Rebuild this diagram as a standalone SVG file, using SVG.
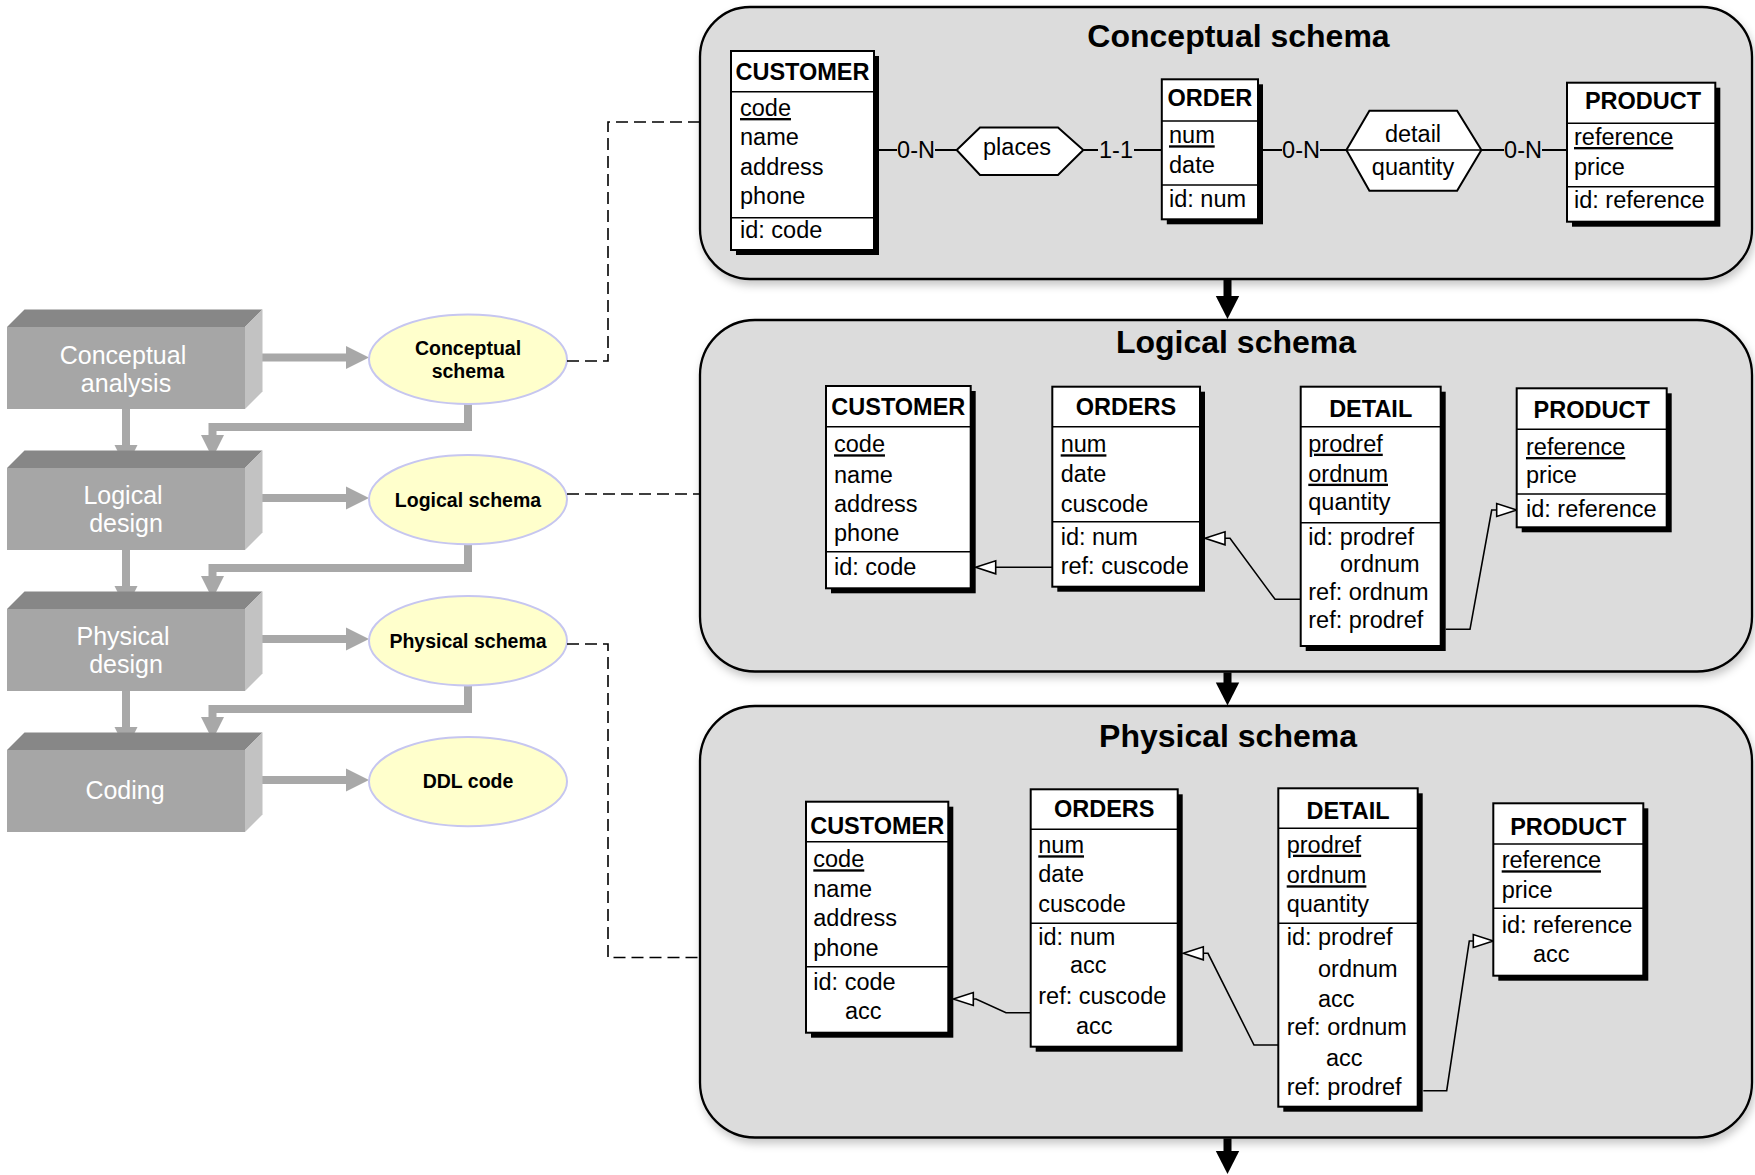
<svg xmlns="http://www.w3.org/2000/svg" xmlns:xlink="http://www.w3.org/1999/xlink" width="1755" height="1175" viewBox="0 0 1755 1175">
  <defs>
    <style>
      .front { fill: #a6a6a6; }
      .top { fill: #878787; }
      .side { fill: #c2c2c2; }
      .btxt { font-family: "Liberation Sans", Arial, sans-serif; font-size: 25px; fill: #ffffff; text-anchor: middle; }
      .ell { fill: #ffffcc; stroke: #c6c6f0; stroke-width: 2; }
      .etxt { font-family: "Liberation Sans", Arial, sans-serif; font-size: 19.5px; font-weight: bold; fill: #000; text-anchor: middle; }
      .gshaft { fill: none; stroke: #a8a8a8; stroke-width: 8; stroke-linejoin: miter; }
      .ghead { fill: #a8a8a8; }
      .dash { fill: none; stroke: #000; stroke-width: 1.6; stroke-dasharray: 12 6; }
      .panel { fill: #dcdcdc; stroke: #000; stroke-width: 2.3; filter: url(#soft); }
      .title { font-family: "Liberation Sans", Arial, sans-serif; font-size: 32px; font-weight: bold; fill: #000; text-anchor: middle; }
      .bshaft { fill: none; stroke: #000; stroke-width: 8; }
      .bhead { fill: #000; }
      .shd { fill: #000; }
      .tbl { fill: #fff; stroke: #000; stroke-width: 2; }
      .sep { stroke: #000; stroke-width: 1.6; }
      .hd { font-family: "Liberation Sans", Arial, sans-serif; font-size: 23.5px; font-weight: bold; fill: #000; text-anchor: middle; }
      .at { font-family: "Liberation Sans", Arial, sans-serif; font-size: 23.5px; fill: #000; }
      .pk { text-decoration: underline; }
      .rel { fill: #fff; stroke: #000; stroke-width: 2; }
      .lnk { fill: none; stroke: #000; stroke-width: 2; }
      .card { font-family: "Liberation Sans", Arial, sans-serif; font-size: 23.5px; fill: #000; text-anchor: middle; }
      .fk { fill: none; stroke: #000; stroke-width: 1.6; }
      .fkhead { fill: #fff; stroke: #000; stroke-width: 1.6; }
    </style>
    <filter id="soft" x="-5%" y="-5%" width="110%" height="115%">
      <feDropShadow dx="2" dy="5" stdDeviation="4" flood-color="#000" flood-opacity="0.22"/>
    </filter>
    <!-- gray arrowhead, tip at origin, pointing down -->
    <path id="gHead" d="M0,0 L-11.5,-23 L11.5,-23 Z"/>
    <!-- black arrowhead, tip at origin, pointing down -->
    <path id="bHead" d="M0,0 L-11.7,-23 L11.7,-23 Z"/>
    <!-- hollow reference arrowhead, tip at origin, pointing left -->
    <path id="fkTri" d="M0,0 L20,-6.5 L20,6.5 Z"/>
  </defs>

  <!-- ===== design process (left) ===== -->
  <g id="process-arrows">
    <!-- step to step -->
    <path class="gshaft" d="M126,409 V446"/>
    <use href="#gHead" class="ghead" transform="translate(126,468)"/>
    <path class="gshaft" d="M126,550 V587"/>
    <use href="#gHead" class="ghead" transform="translate(126,609)"/>
    <path class="gshaft" d="M126,691 V728"/>
    <use href="#gHead" class="ghead" transform="translate(126,750)"/>
    <!-- step to product -->
    <path class="gshaft" d="M258,357.5 H347"/>
    <use href="#gHead" class="ghead" transform="translate(369,357.5) rotate(-90)"/>
    <path class="gshaft" d="M258,498 H347"/>
    <use href="#gHead" class="ghead" transform="translate(369,498) rotate(-90)"/>
    <path class="gshaft" d="M258,639 H347"/>
    <use href="#gHead" class="ghead" transform="translate(369,639) rotate(-90)"/>
    <path class="gshaft" d="M258,780 H347"/>
    <use href="#gHead" class="ghead" transform="translate(369,780) rotate(-90)"/>
    <!-- product feeds next step -->
    <path class="gshaft" d="M468,403 V427 H212.5 V436"/>
    <use href="#gHead" class="ghead" transform="translate(212.5,458)"/>
    <path class="gshaft" d="M468,544 V568 H212.5 V577"/>
    <use href="#gHead" class="ghead" transform="translate(212.5,599)"/>
    <path class="gshaft" d="M468,685 V709 H212.5 V718"/>
    <use href="#gHead" class="ghead" transform="translate(212.5,740)"/>
  </g>

  <g id="step-conceptual-analysis">
    <polygon class="top" points="7,327 24.5,309.5 262.5,309.5 245,327"/>
    <polygon class="side" points="245,327 262.5,309.5 262.5,391.5 245,409"/>
    <rect class="front" x="7" y="327" width="238" height="82"/>
    <text class="btxt" x="123" y="363.5">Conceptual</text>
    <text class="btxt" x="126" y="391.5">analysis</text>
  </g>
  <g id="step-logical-design">
    <polygon class="top" points="7,468 24.5,450.5 262.5,450.5 245,468"/>
    <polygon class="side" points="245,468 262.5,450.5 262.5,532.5 245,550"/>
    <rect class="front" x="7" y="468" width="238" height="82"/>
    <text class="btxt" x="123" y="504">Logical</text>
    <text class="btxt" x="126" y="532">design</text>
  </g>
  <g id="step-physical-design">
    <polygon class="top" points="7,609 24.5,591.5 262.5,591.5 245,609"/>
    <polygon class="side" points="245,609 262.5,591.5 262.5,673.5 245,691"/>
    <rect class="front" x="7" y="609" width="238" height="82"/>
    <text class="btxt" x="123" y="644.5">Physical</text>
    <text class="btxt" x="126" y="673">design</text>
  </g>
  <g id="step-coding">
    <polygon class="top" points="7,750 24.5,732.5 262.5,732.5 245,750"/>
    <polygon class="side" points="245,750 262.5,732.5 262.5,814.5 245,832"/>
    <rect class="front" x="7" y="750" width="238" height="82"/>
    <text class="btxt" x="125" y="798.5">Coding</text>
  </g>

  <g id="product-conceptual-schema">
    <ellipse class="ell" cx="468" cy="359.3" rx="99" ry="44.7"/>
    <text class="etxt" x="468" y="355">Conceptual</text>
    <text class="etxt" x="468" y="377.7">schema</text>
  </g>
  <g id="product-logical-schema">
    <ellipse class="ell" cx="468" cy="499.6" rx="99" ry="44.7"/>
    <text class="etxt" x="468" y="507">Logical schema</text>
  </g>
  <g id="product-physical-schema">
    <ellipse class="ell" cx="468" cy="640.7" rx="99" ry="44.7"/>
    <text class="etxt" x="468" y="648">Physical schema</text>
  </g>
  <g id="product-ddl-code">
    <ellipse class="ell" cx="468" cy="781.6" rx="99" ry="44.7"/>
    <text class="etxt" x="468" y="788">DDL code</text>
  </g>

  <!-- dashed links from products to schema panels -->
  <g id="schema-links">
    <path class="dash" d="M567,361 H608 V122 H700"/>
    <path class="dash" d="M567,494 H700"/>
    <path class="dash" d="M567,644 H608 V957.5 H700"/>
  </g>

  <!-- ===== schema panels (right) ===== -->
  <g id="panel-conceptual">
    <rect class="panel" x="700" y="7" width="1052" height="272" rx="50" ry="50"/>
    <text class="title" x="1238.5" y="46.7">Conceptual schema</text>
  </g>
  <g id="panel-logical">
    <rect class="panel" x="700" y="320" width="1052" height="351.5" rx="55" ry="55"/>
    <text class="title" x="1236" y="353.3">Logical schema</text>
  </g>
  <g id="panel-physical">
    <rect class="panel" x="700" y="706" width="1052" height="431.5" rx="55" ry="55"/>
    <text class="title" x="1228" y="746.7">Physical schema</text>
  </g>

  <g id="panel-arrows">
    <path class="bshaft" d="M1227.5,280 V297"/>
    <use href="#bHead" class="bhead" transform="translate(1227.5,319)"/>
    <path class="bshaft" d="M1227.5,672.5 V684"/>
    <use href="#bHead" class="bhead" transform="translate(1227.5,705.5)"/>
    <path class="bshaft" d="M1227.5,1138.5 V1152"/>
    <use href="#bHead" class="bhead" transform="translate(1227.5,1174)"/>
  </g>

  <!-- ===== conceptual schema ===== -->
  <g id="c-links">
    <path class="lnk" d="M874,150 H897"/>
    <text class="card" x="916" y="158.3">0-N</text>
    <path class="lnk" d="M935,150 H956.7"/>
    <path class="lnk" d="M1083.3,150 H1098"/>
    <text class="card" x="1116" y="158.3">1-1</text>
    <path class="lnk" d="M1134,150 H1161.8"/>
    <path class="lnk" d="M1258,150 H1282"/>
    <text class="card" x="1301" y="158.3">0-N</text>
    <path class="lnk" d="M1320,150 H1346.4"/>
    <path class="lnk" d="M1481.4,150 H1504"/>
    <text class="card" x="1523" y="158.3">0-N</text>
    <path class="lnk" d="M1542,150 H1567"/>
  </g>

  <g id="c-customer">
    <rect class="shd" x="736" y="56" width="143" height="199"/>
    <rect class="tbl" x="731" y="51" width="143" height="199"/>
    <line class="sep" x1="731" y1="91.7" x2="874" y2="91.7"/>
    <line class="sep" x1="731" y1="217.7" x2="874" y2="217.7"/>
    <text class="hd" x="802.5" y="80">CUSTOMER</text>
    <text class="at pk" x="740" y="116">code</text>
    <text class="at" x="740" y="145.3">name</text>
    <text class="at" x="740" y="175">address</text>
    <text class="at" x="740" y="204.3">phone</text>
    <text class="at" x="740" y="238.3">id: code</text>
  </g>

  <g id="c-places">
    <polygon class="rel" points="956.7,150 980,127.5 1058,127.5 1083.3,150 1058,175 980,175"/>
    <text class="card" x="1017" y="155">places</text>
  </g>

  <g id="c-order">
    <rect class="shd" x="1166.8" y="84.3" width="96.2" height="140"/>
    <rect class="tbl" x="1161.8" y="79.3" width="96.2" height="140"/>
    <line class="sep" x1="1161.8" y1="121" x2="1258" y2="121"/>
    <line class="sep" x1="1161.8" y1="185" x2="1258" y2="185"/>
    <text class="hd" x="1209.9" y="105.7">ORDER</text>
    <text class="at pk" x="1169" y="143.3">num</text>
    <text class="at" x="1169" y="173.3">date</text>
    <text class="at" x="1169" y="206.7">id: num</text>
  </g>

  <g id="c-detail">
    <polygon class="rel" points="1346.4,150 1369.4,110.7 1457.1,110.7 1481.4,150 1457.1,190.7 1369.4,190.7"/>
    <line class="sep" x1="1346.4" y1="150" x2="1481.4" y2="150"/>
    <text class="card" x="1413" y="141.7">detail</text>
    <text class="card" x="1413" y="175">quantity</text>
  </g>

  <g id="c-product">
    <rect class="shd" x="1572" y="87.7" width="148.3" height="139"/>
    <rect class="tbl" x="1567" y="82.7" width="148.3" height="139"/>
    <line class="sep" x1="1567" y1="123.3" x2="1715.3" y2="123.3"/>
    <line class="sep" x1="1567" y1="186.7" x2="1715.3" y2="186.7"/>
    <text class="hd" x="1643" y="109.3">PRODUCT</text>
    <text class="at pk" x="1574" y="145">reference</text>
    <text class="at" x="1574" y="175">price</text>
    <text class="at" x="1574" y="208.3">id: reference</text>
  </g>

  <!-- ===== logical schema ===== -->
  <g id="l-links">
    <path class="fk" d="M1052.3,567.3 H995.7"/>
    <use href="#fkTri" class="fkhead" transform="translate(975.7,567.3)"/>
    <path class="fk" d="M1300.7,599.3 H1275 L1230,538.3 H1225"/>
    <use href="#fkTri" class="fkhead" transform="translate(1205,538.3)"/>
    <path class="fk" d="M1445.7,629.3 H1470 L1491.7,510 H1496.7"/>
    <use href="#fkTri" class="fkhead" transform="translate(1516.7,510) scale(-1,1)"/>
  </g>

  <g id="l-customer">
    <rect class="shd" x="831" y="391" width="144.7" height="202.3"/>
    <rect class="tbl" x="826" y="386" width="144.7" height="202.3"/>
    <line class="sep" x1="826" y1="426.7" x2="970.7" y2="426.7"/>
    <line class="sep" x1="826" y1="551.7" x2="970.7" y2="551.7"/>
    <text class="hd" x="898.3" y="415">CUSTOMER</text>
    <text class="at pk" x="834" y="452.3">code</text>
    <text class="at" x="834" y="482.7">name</text>
    <text class="at" x="834" y="511.7">address</text>
    <text class="at" x="834" y="541">phone</text>
    <text class="at" x="834" y="575">id: code</text>
  </g>

  <g id="l-orders">
    <rect class="shd" x="1057.3" y="391.7" width="147.7" height="200"/>
    <rect class="tbl" x="1052.3" y="386.7" width="147.7" height="200"/>
    <line class="sep" x1="1052.3" y1="426.7" x2="1200" y2="426.7"/>
    <line class="sep" x1="1052.3" y1="521.7" x2="1200" y2="521.7"/>
    <text class="hd" x="1126" y="415">ORDERS</text>
    <text class="at pk" x="1060.7" y="452.3">num</text>
    <text class="at" x="1060.7" y="481.7">date</text>
    <text class="at" x="1060.7" y="511.7">cuscode</text>
    <text class="at" x="1060.7" y="545">id: num</text>
    <text class="at" x="1060.7" y="574">ref: cuscode</text>
  </g>

  <g id="l-detail">
    <rect class="shd" x="1305.7" y="391.7" width="140" height="259.3"/>
    <rect class="tbl" x="1300.7" y="386.7" width="140" height="259.3"/>
    <line class="sep" x1="1300.7" y1="426.7" x2="1440.7" y2="426.7"/>
    <line class="sep" x1="1300.7" y1="522.7" x2="1440.7" y2="522.7"/>
    <text class="hd" x="1370.7" y="416.7">DETAIL</text>
    <text class="at pk" x="1308.3" y="451.7">prodref</text>
    <text class="at pk" x="1308.3" y="481.7">ordnum</text>
    <text class="at" x="1308.3" y="510">quantity</text>
    <text class="at" x="1308.3" y="545">id: prodref</text>
    <text class="at" x="1340" y="571.7">ordnum</text>
    <text class="at" x="1308.3" y="600">ref: ordnum</text>
    <text class="at" x="1308.3" y="628.3">ref: prodref</text>
  </g>

  <g id="l-product">
    <rect class="shd" x="1521.7" y="393.3" width="150" height="139"/>
    <rect class="tbl" x="1516.7" y="388.3" width="150" height="139"/>
    <line class="sep" x1="1516.7" y1="429.3" x2="1666.7" y2="429.3"/>
    <line class="sep" x1="1516.7" y1="494" x2="1666.7" y2="494"/>
    <text class="hd" x="1591.7" y="418.3">PRODUCT</text>
    <text class="at pk" x="1526" y="455">reference</text>
    <text class="at" x="1526" y="483.3">price</text>
    <text class="at" x="1526" y="516.7">id: reference</text>
  </g>

  <!-- ===== physical schema ===== -->
  <g id="p-links">
    <path class="fk" d="M1030.7,1012.7 H1006 L976,999 H973.3"/>
    <use href="#fkTri" class="fkhead" transform="translate(953.3,999)"/>
    <path class="fk" d="M1278.3,1045 H1254 L1208,953.3 H1203.3"/>
    <use href="#fkTri" class="fkhead" transform="translate(1183.3,953.3)"/>
    <path class="fk" d="M1423.3,1090.7 H1446.7 L1469.3,941 H1473.3"/>
    <use href="#fkTri" class="fkhead" transform="translate(1493.3,941) scale(-1,1)"/>
  </g>

  <g id="p-customer">
    <rect class="shd" x="811" y="806.7" width="142.3" height="231"/>
    <rect class="tbl" x="806" y="801.7" width="142.3" height="231"/>
    <line class="sep" x1="806" y1="841.7" x2="948.3" y2="841.7"/>
    <line class="sep" x1="806" y1="966.7" x2="948.3" y2="966.7"/>
    <text class="hd" x="877.2" y="834">CUSTOMER</text>
    <text class="at pk" x="813.3" y="867.3">code</text>
    <text class="at" x="813.3" y="896.7">name</text>
    <text class="at" x="813.3" y="926">address</text>
    <text class="at" x="813.3" y="955.7">phone</text>
    <text class="at" x="813.3" y="990">id: code</text>
    <text class="at" x="845" y="1019.3">acc</text>
  </g>

  <g id="p-orders">
    <rect class="shd" x="1035.7" y="794.3" width="147" height="257.4"/>
    <rect class="tbl" x="1030.7" y="789.3" width="147" height="257.4"/>
    <line class="sep" x1="1030.7" y1="829.3" x2="1177.7" y2="829.3"/>
    <line class="sep" x1="1030.7" y1="923.3" x2="1177.7" y2="923.3"/>
    <text class="hd" x="1104.2" y="816.7">ORDERS</text>
    <text class="at pk" x="1038.3" y="853.3">num</text>
    <text class="at" x="1038.3" y="882.3">date</text>
    <text class="at" x="1038.3" y="911.7">cuscode</text>
    <text class="at" x="1038.3" y="945">id: num</text>
    <text class="at" x="1070" y="973.3">acc</text>
    <text class="at" x="1038.3" y="1004">ref: cuscode</text>
    <text class="at" x="1076" y="1034">acc</text>
  </g>

  <g id="p-detail">
    <rect class="shd" x="1283.3" y="793.3" width="139.4" height="318.4"/>
    <rect class="tbl" x="1278.3" y="788.3" width="139.4" height="318.4"/>
    <line class="sep" x1="1278.3" y1="828.3" x2="1417.7" y2="828.3"/>
    <line class="sep" x1="1278.3" y1="923.3" x2="1417.7" y2="923.3"/>
    <text class="hd" x="1348" y="819">DETAIL</text>
    <text class="at pk" x="1286.7" y="852.7">prodref</text>
    <text class="at pk" x="1286.7" y="883.3">ordnum</text>
    <text class="at" x="1286.7" y="911.7">quantity</text>
    <text class="at" x="1286.7" y="945">id: prodref</text>
    <text class="at" x="1318" y="976.7">ordnum</text>
    <text class="at" x="1318" y="1006.7">acc</text>
    <text class="at" x="1286.7" y="1035">ref: ordnum</text>
    <text class="at" x="1326" y="1066">acc</text>
    <text class="at" x="1286.7" y="1095">ref: prodref</text>
  </g>

  <g id="p-product">
    <rect class="shd" x="1498.3" y="808.3" width="150" height="172.4"/>
    <rect class="tbl" x="1493.3" y="803.3" width="150" height="172.4"/>
    <line class="sep" x1="1493.3" y1="844" x2="1643.3" y2="844"/>
    <line class="sep" x1="1493.3" y1="908.3" x2="1643.3" y2="908.3"/>
    <text class="hd" x="1568.3" y="835">PRODUCT</text>
    <text class="at pk" x="1501.7" y="868.3">reference</text>
    <text class="at" x="1501.7" y="898.3">price</text>
    <text class="at" x="1501.7" y="933.3">id: reference</text>
    <text class="at" x="1533" y="961.7">acc</text>
  </g>
</svg>
